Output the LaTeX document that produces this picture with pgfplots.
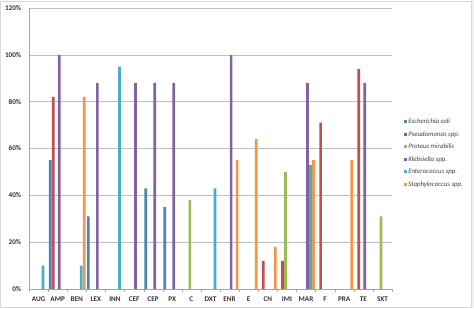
\documentclass[border=0pt]{standalone}
\usepackage{fontspec}
\setmainfont{Carlito}
\usepackage{pgfplots}
\pgfplotsset{compat=1.18}
\definecolor{cEc}{HTML}{4F81BD}
\definecolor{cPs}{HTML}{C0504D}
\definecolor{cPr}{HTML}{9BBB59}
\definecolor{cKl}{HTML}{8064A2}
\definecolor{cEn}{HTML}{4BACC6}
\definecolor{cSt}{HTML}{F79646}
\begin{document}
\begin{tikzpicture}
\path[use as bounding box] (0pt,0pt) rectangle (474pt,308pt);
\fill[gray!12] (471pt,0pt) rectangle (474pt,308pt);
\draw[gray!30, line width=0.8pt] (0.5pt,0.5pt) rectangle (471pt,306.5pt);
\begin{axis}[
  at={(29pt,19pt)}, anchor=south west,
  scale only axis, width=363pt, height=281pt,
  xmin=-0.5, xmax=18.5, ymin=0, ymax=120,
  ybar=0.3pt, bar width=2.7pt,
  xtick={0,...,18},
  xticklabels={AUG,AMP,BEN,LEX,INN,CEF,CEP,PX,C,DXT,ENR,E,CN,IMI,MAR,F,PRA,TE,SXT},
  minor xtick={-0.5,0.5,...,18.5},
  major x tick style={draw=none},
  minor x tick style={gray!70},
  tick align=outside, minor tick length=3pt,
  ytick={0,20,...,120},
  yticklabels={0\%,20\%,40\%,60\%,80\%,100\%,120\%},
  y tick style={draw=none},
  ymajorgrids, grid style={gray!50, line width=0.6pt},
  axis x line*=bottom, axis y line*=left,
  axis line style={gray!70, -},
  ticklabel style={font=\bfseries\fontsize{7.2}{8}\selectfont, text=black!80},
  legend style={at={(1.025,0.618)}, anchor=north west, draw=none, fill=none,
    font=\itshape\fontsize{6.8}{7}\selectfont, text=black!75, row sep=4pt,
    nodes={inner sep=1pt, text height=5pt, text depth=1.5pt}},
  legend cell align=left,
  legend image code/.code={\fill[#1] (0pt,-1.5pt) rectangle (3pt,1.5pt);},
]
\addplot[fill=cEc, draw=none] coordinates {(1,55) (3,31) (6,43) (7,35)};
\addplot[fill=cPs, draw=none] coordinates {(1,82) (12,12) (13,12) (15,71) (17,94)};
\addplot[fill=cPr, draw=none] coordinates {(8,38) (13,50) (18,31)};
\addplot[fill=cKl, draw=none] coordinates {(1,100) (3,88) (5,88) (6,88) (7,88) (10,100) (14,88) (17,88)};
\addplot[fill=cEn, draw=none] coordinates {(0,10) (2,10) (4,95) (9,43) (14,53)};
\addplot[fill=cSt, draw=none] coordinates {(2,82) (10,55) (11,64) (12,18) (14,55) (16,55)};
\legend{Escherichia coli, Pseudomonas spp., Proteus mirabilis, Klebsiella spp., Enterococcus spp., Staphylococcus spp.}
\end{axis}
\end{tikzpicture}
\end{document}
